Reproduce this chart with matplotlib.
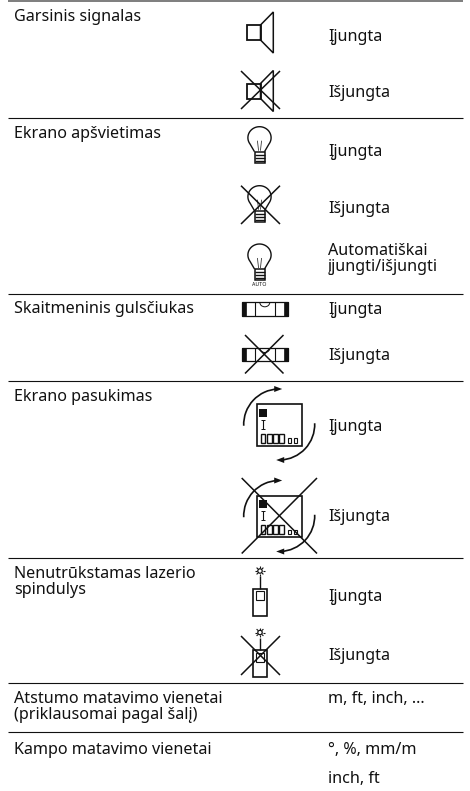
"""Lentelė su nustatymais ir piktogramomis (koordinatės pikseliais, y žemyn)."""

import numpy as np
import matplotlib

matplotlib.use("Agg")
import matplotlib.pyplot as plt
from matplotlib.patches import Arc, Circle, Polygon, Rectangle

ON = "Įjungta"
OFF = "Išjungta"

SECTION_LABELS = [
    "Garsinis signalas",
    "Ekrano apšvietimas",
    "Skaitmeninis gulsčiukas",
    "Ekrano pasukimas",
    "Nenutrūkstamas lazerio\nspindulys",
    "Atstumo matavimo vienetai\n(priklausomai pagal šalį)",
    "Kampo matavimo vienetai",
]
STATE_LABELS = [ON, OFF, ON, OFF, "Automatiškai\nįjungti/išjungti", ON, OFF, ON, OFF, ON, OFF]
UNIT_LABELS = ["m, ft, inch, …", "°, %, mm/m", "inch, ft"]

# layout
SECTION_Y = [17, 134, 309, 397, 582, 707, 750]
STATE_Y = [37, 93, 152, 209, 259, 310, 356, 427, 517, 597, 656]
UNIT_Y = [699, 750, 779]
RULE_Y = [117.5, 293.5, 381, 558, 683, 732]
LEFT, RIGHT = 8, 463
TEXT_X, STATE_X = 14, 328
INK = "#111111"
FONT = "Noto Sans"
FS = 11.6


def line(ax, xs, ys, lw=1.0):
    ax.plot(xs, ys, color=INK, lw=lw, solid_capstyle="butt", solid_joinstyle="miter")


def cross(ax, x0, y0, x1, y1):
    line(ax, [x0, x1], [y0, y1], 1.1)
    line(ax, [x0, x1], [y1, y0], 1.1)


def box(ax, x0, y0, x1, y1, lw=1.0, fc="none"):
    ax.add_patch(Rectangle((x0, y0), x1 - x0, y1 - y0, fc=fc, ec=INK, lw=lw))


def speaker(ax, y):
    box(ax, 247, y - 7.5, 260.5, y + 7.5, 1.3)
    ax.add_patch(Polygon([(260.5, y - 7.5), (273.3, y - 20.5), (273.3, y + 20.5), (260.5, y + 7.5)],
                         closed=True, fc="none", ec=INK, lw=1.1))


def bulb(ax, top):
    cx = 259.5
    t = np.radians(np.linspace(-215, 35, 50))
    xs = cx + 11.6 * np.cos(t)
    ys = top + 11 + 11 * np.sin(t)
    xs = np.concatenate([[cx - 5], xs, [cx + 5]])
    ys = np.concatenate([[top + 25], ys, [top + 25]])
    line(ax, xs, ys, 1.0)
    line(ax, [cx - 2, cx - 1], [top + 14, top + 24], 0.5)
    line(ax, [cx + 2, cx + 1], [top + 14, top + 24], 0.5)
    box(ax, cx - 5, top + 25, cx + 5, top + 36, 1.1, fc="white")
    for k in (28, 31, 34):
        line(ax, [cx - 5, cx + 5], [top + k, top + k], 1.0)


def level(ax, y):
    box(ax, 241.5, y - 6.7, 288, y + 6.7, 0.9)
    for x0, x1 in ((241.5, 246), (283.5, 288)):
        ax.add_patch(Rectangle((x0, y - 6.7), x1 - x0, 13.4, fc=INK, ec=INK, lw=0.5))
    line(ax, [255, 255], [y - 6.7, y + 6.7], 0.8)
    line(ax, [274.5, 274.5], [y - 6.7, y + 6.7], 0.8)
    ax.add_patch(Arc((264.8, y - 6.7), 10, 9, theta1=0, theta2=180, ec=INK, lw=0.7))


def rotate_icon(ax, cy):
    cx = 279.2
    box(ax, cx - 22.5, cy - 20.5, cx + 22.5, cy + 21, 1.2)
    # battery, cursor, digits
    ax.add_patch(Rectangle((cx - 20, cy - 16), 8, 8, fc=INK, ec="none"))
    line(ax, [cx - 16, cx - 16], [cy - 5, cy + 4], 0.8)
    line(ax, [cx - 18, cx - 14], [cy - 5, cy - 5], 0.7)
    line(ax, [cx - 18, cx - 14], [cy + 4, cy + 4], 0.7)
    for i in range(4):
        box(ax, cx - 18.5 + i * 6.2, cy + 9, cx - 13.8 + i * 6.2, cy + 18, 1.0)
    for i in range(2):
        box(ax, cx + 9 + i * 5.5, cy + 13.5, cx + 12 + i * 5.5, cy + 18, 0.8)
    r = 35.5
    ax.add_patch(Arc((cx, cy), 2 * r, 2 * r, theta1=178, theta2=268, ec=INK, lw=1.2))
    ax.add_patch(Arc((cx, cy), 2 * r, 2 * r, theta1=-2, theta2=88, ec=INK, lw=1.2))
    ax.add_patch(Polygon([(cx + 3, cy - r), (cx - 5, cy - r - 3), (cx - 5, cy - r + 3)], fc=INK, ec="none"))
    ax.add_patch(Polygon([(cx - 3, cy + r), (cx + 5, cy + r - 3), (cx + 5, cy + r + 3)], fc=INK, ec="none"))


def laser(ax, top):
    cx = 260
    ax.add_patch(Circle((cx, top), 2.2, fc="white", ec=INK, lw=0.9))
    for a in range(0, 360, 45):
        t = np.radians(a)
        line(ax, [cx + 2.8 * np.cos(t), cx + 4.8 * np.cos(t)], [top + 2.8 * np.sin(t), top + 4.8 * np.sin(t)], 0.8)
    line(ax, [cx, cx], [top + 5, top + 17.5], 1.0)
    box(ax, 252.5, top + 17.5, 267.3, top + 44.5, 1.2)
    box(ax, 256, top + 20, 264.3, top + 29, 0.8)


fig = plt.figure(figsize=(4.7, 7.91), dpi=100)
ax = fig.add_axes([0, 0, 1, 1])
ax.set_xlim(0, 470)
ax.set_ylim(791, 0)
ax.axis("off")

ax.add_patch(Rectangle((LEFT, 0), RIGHT - LEFT, 2, fc="#808080", ec="none"))
for y in RULE_Y:
    line(ax, [LEFT, RIGHT], [y, y], 0.8)

for label, y in zip(SECTION_LABELS, SECTION_Y):
    ax.text(TEXT_X, y, label, family=FONT, fontsize=FS, color=INK, va="center", linespacing=0.95)
for label, y in zip(STATE_LABELS, STATE_Y):
    ax.text(STATE_X, y, label, family=FONT, fontsize=FS, color=INK, va="center", linespacing=0.95)
for label, y in zip(UNIT_LABELS, UNIT_Y):
    ax.text(STATE_X, y, label, family=FONT, fontsize=FS, color=INK, va="center")

speaker(ax, 32.5)
speaker(ax, 91)
cross(ax, 241, 71, 280, 109)
bulb(ax, 126.7)
bulb(ax, 185.7)
cross(ax, 241, 185.7, 280, 224)
bulb(ax, 244)
ax.text(259.5, 284.5, "AUTO", family=FONT, fontsize=3.8, color=INK, ha="center", va="center")
level(ax, 309)
level(ax, 354.7)
cross(ax, 245, 335, 283.5, 373.5)
rotate_icon(ax, 424.5)
rotate_icon(ax, 516)
cross(ax, 241.7, 478, 317, 553.5)
laser(ax, 571)
laser(ax, 632.5)
cross(ax, 241, 636, 280, 675)

fig.savefig("out.png", dpi=100)
